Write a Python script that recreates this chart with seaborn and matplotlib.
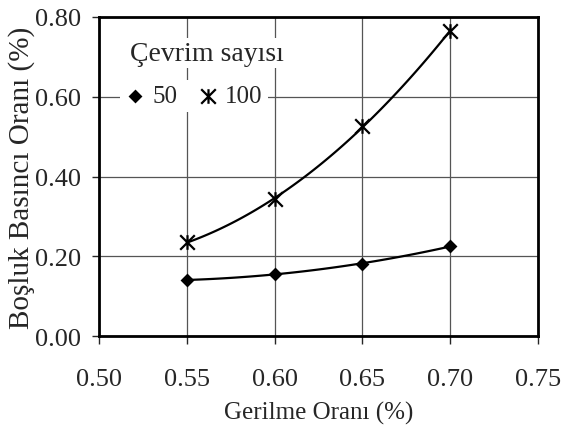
import numpy as np
import pandas as pd
import matplotlib
matplotlib.use("Agg")
import matplotlib.pyplot as plt
from matplotlib.path import Path
import seaborn as sns

# ---- data ----
strain_ratio = [0.55, 0.60, 0.65, 0.70]
pp_50 = [0.140, 0.156, 0.181, 0.225]
pp_100 = [0.235, 0.343, 0.526, 0.765]
x_ticks = [0.50, 0.55, 0.60, 0.65, 0.70, 0.75]
y_ticks = [0.00, 0.20, 0.40, 0.60, 0.80]

sns.set_style("ticks")
plt.rcParams['font.family'] = ['Liberation Serif', 'DejaVu Serif']

fig = plt.figure(figsize=(5.61, 4.31), dpi=100)
ax = fig.add_axes([99/561, 1-337/431, 439/561, 319/431])

star = Path([(-1, -1), (1, 1), (-1, 1), (1, -1), (0, -1), (0, 1)],
            [Path.MOVETO, Path.LINETO, Path.MOVETO, Path.LINETO, Path.MOVETO, Path.LINETO])

df = pd.DataFrame({"x": strain_ratio, "y50": pp_50, "y100": pp_100})

sns.regplot(data=df, x="x", y="y50", order=2, ci=None, ax=ax, marker="D",
            color="black", label="50",
            scatter_kws=dict(s=50, alpha=1, linewidths=0, zorder=4),
            line_kws=dict(lw=1.6, color="black", zorder=3))
sns.regplot(data=df, x="x", y="y100", order=2, ci=None, ax=ax, marker=star,
            color="black", label="100",
            scatter_kws=dict(s=110, alpha=1, linewidths=1.6, zorder=4),
            line_kws=dict(lw=1.6, color="black", zorder=3))

ax.set_xlim(0.50, 0.75)
ax.set_ylim(0.0, 0.80)
ax.set_xticks(x_ticks)
ax.set_yticks(y_ticks)
ax.set_xticklabels([f"{v:.2f}" for v in x_ticks])
ax.set_yticklabels([f"{v:.2f}" for v in y_ticks])
ax.grid(True, color="#555555", lw=0.9)
ax.set_axisbelow(True)
for s in ax.spines.values():
    s.set_visible(True)
    s.set_linewidth(2.0)
    s.set_color("black")
ax.tick_params(axis="x", length=6, width=1, pad=17, labelsize=19, direction="out")
ax.tick_params(axis="y", length=5, width=1, pad=8, labelsize=19, direction="out")

ax.set_xlabel("Gerilme Oranı (%)", fontsize=18, labelpad=8)
ax.set_ylabel("Boşluk Basıncı Oranı (%)", fontsize=21, labelpad=0)

leg = ax.legend(loc="center left", bbox_to_anchor=(0.048, 0.752), ncol=2,
                frameon=True, fontsize=18, handlelength=0.8, handletextpad=0.3,
                columnspacing=0.8, borderpad=0.2, borderaxespad=0,
                scatterpoints=1, fancybox=False)
leg.get_frame().set_facecolor("white")
leg.get_frame().set_edgecolor("none")
leg.get_frame().set_alpha(1)

ax.text(0.07, 0.887, "Çevrim sayısı", transform=ax.transAxes, fontsize=20,
        ha="left", va="center", zorder=6,
        bbox=dict(facecolor="white", edgecolor="none", pad=2))

fig.savefig("out.png", dpi=100)
